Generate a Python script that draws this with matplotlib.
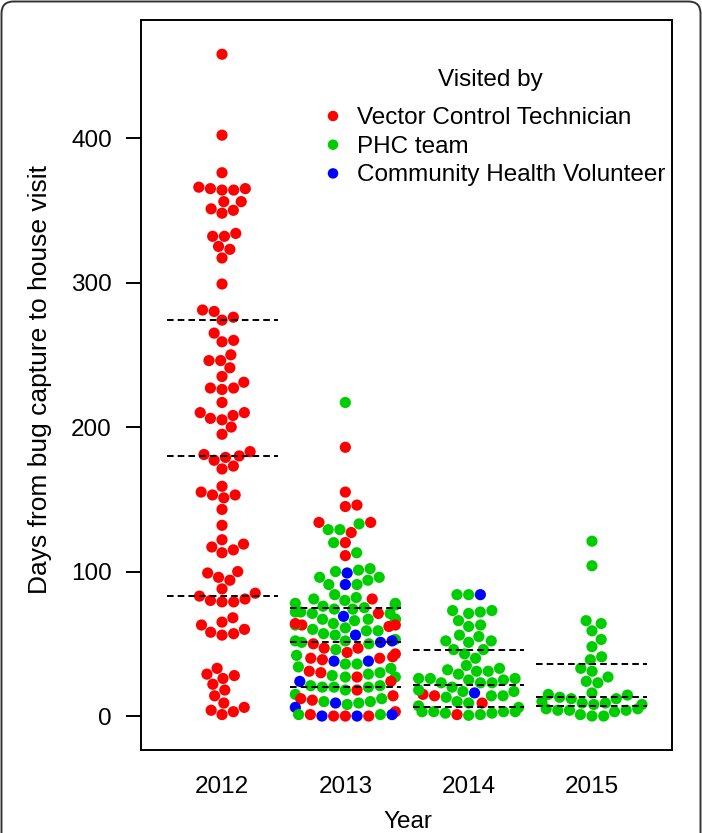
import numpy as np
import matplotlib
matplotlib.use("Agg")
import matplotlib.pyplot as plt
from matplotlib.patches import FancyBboxPatch

plt.rcParams['font.family'] = ['Liberation Sans', 'DejaVu Sans']

# ---------------- data ----------------
years = ["2012", "2013", "2014", "2015"]

# visitor codes: R = Vector Control Technician, G = PHC team, B = Community Health Volunteer
days_2012 = [458, 402, 376, 366, 365, 364, 364, 365, 356, 356, 351, 348, 350, 332, 332, 334,
             325, 323, 317, 299, 281, 280, 274, 276, 265, 259, 260, 246, 246, 250, 241, 235,
             231, 227, 226, 227, 217, 210, 206, 205, 208, 210, 200, 195, 181, 177, 179, 180,
             183, 171, 173, 155, 153, 159, 151, 153, 143, 132, 119, 117, 122, 113, 115, 99,
             96, 94, 100, 88, 83, 80, 79, 79, 81, 85, 63, 58, 56, 57, 60, 65, 68, 28, 29, 26,
             33, 22, 18, 14, 9, 4, 1, 3, 6]
who_2012 = ["R"] * len(days_2012)

days_2013 = [217, 186, 155, 145, 146, 134, 134, 129, 129, 133, 127, 120, 120, 111, 113,
             101, 99, 100, 102, 96, 94, 91, 91, 91, 96, 84, 81, 80,
             82, 78, 75, 77, 74, 77, 78, 81, 76,
             71, 71, 67, 66, 72, 67, 72, 74, 67, 71, 69,
             63, 62, 60, 57, 63, 59, 64, 64, 67, 59, 61, 63, 56, 56,
             52, 51, 50, 53, 51, 47, 44, 43, 46, 47, 50, 52, 52,
             41, 40, 39, 36, 36, 34, 38, 38, 40, 42, 33,
             31, 30, 28, 27, 27, 27, 29, 30, 24, 24,
             20, 20, 18, 18, 20, 21, 21, 15,
             12, 10, 11, 9, 8, 9, 10, 12, 14, 6,
             3, 1, 1, 0, 0, 0, 0, 0, 1, 1]
who_2013 = ["G", "R", "R", "R", "R", "R", "R", "G", "G", "G", "R", "R", "G", "R", "G",
            "G", "B", "G", "G", "G", "G", "B", "G", "G", "G", "G", "R", "G",
            "G", "G", "G", "G", "G", "G", "G", "G", "G",
            "G", "R", "G", "G", "G", "G", "G", "G", "G", "G", "B",
            "R", "R", "G", "G", "G", "G", "G", "R", "G", "G", "G", "R", "B", "G",
            "G", "B", "G", "G", "G", "R", "R", "R", "G", "R", "R", "B", "G",
            "R", "R", "R", "G", "G", "G", "B", "B", "R", "G", "G",
            "R", "R", "G", "G", "R", "G", "G", "G", "R", "B",
            "G", "G", "G", "R", "G", "G", "G", "G",
            "G", "G", "R", "B", "G", "G", "G", "R", "R", "B",
            "R", "G", "R", "R", "B", "R", "R", "B", "B", "G"]

days_2014 = [84, 84, 84, 73, 71, 72, 73, 66, 62, 63, 56, 55, 51, 52, 52, 46, 46, 40, 43,
             35, 32, 29, 31, 31, 33, 26, 25, 23, 20, 25, 23, 23, 26, 26,
             17, 14, 13, 10, 17, 16, 9, 14, 14, 15, 18, 9,
             6, 3, 3, 2, 1, 0.5, 1, 2, 3, 3, 7]
who_2014 = ["G", "B", "G", "G", "G", "G", "G", "G", "G", "G", "G", "G", "G", "G", "G",
            "G", "G", "G", "G", "G", "G", "G", "G", "G", "G", "G", "G", "G", "G", "G",
            "G", "G", "G", "G",
            "G", "G", "G", "G", "G", "B", "G", "R", "G", "R", "G", "R",
            "G", "G", "G", "G", "G", "G", "R", "G", "G", "G", "G"]

days_2015 = [121, 104, 66, 64, 59, 53, 48, 39, 41, 33, 31, 27, 24, 23, 16, 15, 13, 12, 12,
             14.5, 9, 8, 9, 10, 8, 5, 4, 4, 5, 4, 3, 1, 0, 0]
who_2015 = ["G"] * len(days_2015)

# quartile lines (25%, 50%, 75%)
q25 = [83, 20, 6.5, 7]
q50 = [180, 51.5, 21.5, 13.4]
q75 = [274, 75, 45.7, 36]

legend_title = "Visited by"
legend_labels = ["Vector Control Technician", "PHC team", "Community Health Volunteer"]
legend_codes = ["R", "G", "B"]
colors = {"R": "#FF0000", "G": "#00CD00", "B": "#0000FF"}

# ---------------- layout ----------------
W, H = 702, 833
fig = plt.figure(figsize=(W / 100, H / 100), dpi=100)
ax_l, ax_r, ax_t, ax_b = 141, 672, 20, 750
ax = fig.add_axes([ax_l / W, 1 - ax_b / H, (ax_r - ax_l) / W, (ax_b - ax_t) / H])

xlim = (0.343, 4.649)
ylim = (-23.5, 481.7)
ax.set_xlim(*xlim)
ax.set_ylim(*ylim)
px_per_x = (ax_r - ax_l) / (xlim[1] - xlim[0])
px_per_y = (ax_b - ax_t) / (ylim[1] - ylim[0])

DOT = 11.7          # swarm spacing in px
HALF_CORRAL = 50.0  # gutter half-width in px


def swarm(vals):
    y = np.asarray(vals, float) * px_per_y
    order = np.argsort(y, kind="stable")
    xs = np.zeros(len(y))
    px, py = [], []
    for i in order:
        yi = y[i]
        cands = [0.0]
        for xj, yj in zip(px, py):
            dy = yi - yj
            if abs(dy) < DOT:
                off = np.sqrt(DOT * DOT - dy * dy)
                cands += [xj + off, xj - off]
        best = None
        for c in sorted(cands, key=lambda v: abs(v)):
            ok = True
            for xj, yj in zip(px, py):
                if (c - xj) ** 2 + (yi - yj) ** 2 < DOT * DOT - 1e-6:
                    ok = False
                    break
            if ok:
                best = c
                break
        xs[i] = best
        px.append(best)
        py.append(yi)
    xs = np.clip(xs, -HALF_CORRAL, HALF_CORRAL)
    return xs / px_per_x


all_days = [days_2012, days_2013, days_2014, days_2015]
all_who = [who_2012, who_2013, who_2014, who_2015]
msize = (11.2 * 72 / 100) ** 2

for k, (d, w) in enumerate(zip(all_days, all_who)):
    off = swarm(d)
    xpos = (k + 1) + off
    ax.scatter(xpos, d, s=msize, c=[colors[c] for c in w], edgecolors="none", zorder=2)

for k in range(len(years)):
    for q in (q25[k], q50[k], q75[k]):
        ax.plot([k + 1 - 0.45, k + 1 + 0.45], [q, q], color="black", lw=1.4,
                dashes=[3.4, 2.1], zorder=3)

FS = 17.5
# axes styling
for s in ax.spines.values():
    s.set_linewidth(1.4)
ax.set_yticks([0, 100, 200, 300, 400])
ax.set_yticklabels(["0", "100", "200", "300", "400"])
ax.set_xticks([1, 2, 3, 4])
ax.set_xticklabels(years)
ax.tick_params(axis="y", length=11, width=1.4, pad=10, labelsize=FS)
ax.tick_params(axis="x", length=0, pad=19, labelsize=FS)

fig.text(40 / W, 1 - 380 / H, "Days from bug capture to house visit", rotation=90,
         ha="center", va="center", fontsize=19)
fig.text(408 / W, 1 - 822 / H, "Year", ha="center", va="center", fontsize=FS)

# legend (manual)
fig.text(490 / W, 1 - 80 / H, legend_title, ha="center", va="center", fontsize=FS)
for i, (lab, code) in enumerate(zip(legend_labels, legend_codes)):
    yy = 116 + i * 28.7
    fig.text(357 / W, 1 - (yy + 2) / H, lab, ha="left", va="center", fontsize=FS)
    ax.scatter([333 / W], [1 - yy / H], s=(10.5 * 72 / 100) ** 2, c=colors[code],
               edgecolors="none", transform=fig.transFigure, clip_on=False, zorder=4)

# outer rounded frame
frame = FancyBboxPatch((1.5 / 100, -0.4), 699 / 100, (H - 1.5) / 100 + 0.4,
                       boxstyle="round,pad=0,rounding_size=0.12",
                       transform=fig.dpi_scale_trans, fill=False,
                       edgecolor="#333333", linewidth=1.4)
fig.add_artist(frame)

fig.savefig("out.png", dpi=100)
